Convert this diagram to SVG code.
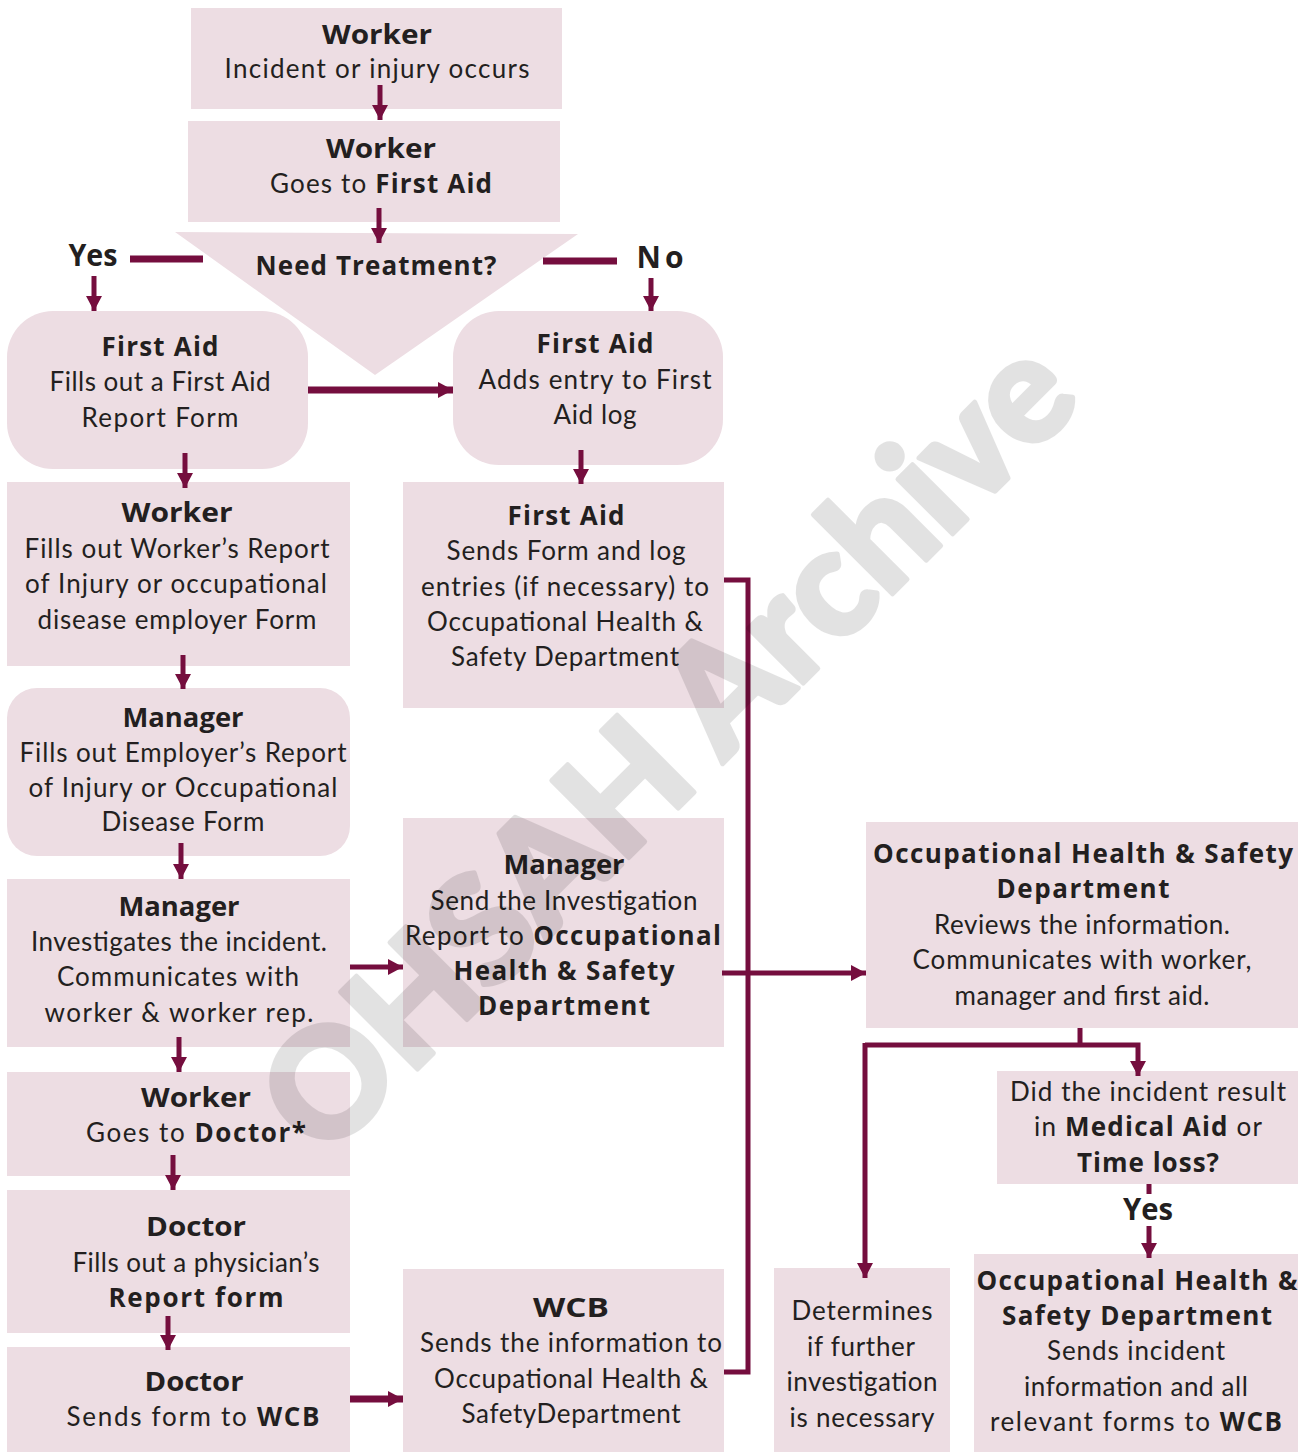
<svg xmlns="http://www.w3.org/2000/svg" width="1307" height="1452" viewBox="0 0 1307 1452">
  <defs>
    <marker id="arrow" markerUnits="userSpaceOnUse" markerWidth="15" markerHeight="16" refX="15" refY="8" orient="auto">
      <path d="M0,0 L15,8 L0,16 z" fill="#750E3E"/>
    </marker>
    <style>
      .box { fill: #EDDDE3; }
      text { font-family: Lato, "Open Sans", "Liberation Sans", sans-serif; font-size: 26px; fill: #231F20; text-anchor: middle; }
      .b { font-family: "Open Sans", Lato, "Liberation Sans", sans-serif; font-weight: 700; font-size: 26px; }
      .lbl { font-family: "Open Sans", Lato, "Liberation Sans", sans-serif; font-weight: 700; font-size: 30px; }
      .conn path, .conn line { stroke: #750E3E; stroke-width: 5; fill: none; }
      .conn .arr { marker-end: url(#arrow); }
      .conn .bar { stroke-width: 7; }
      .mark { font-family: Lato, "Liberation Sans", sans-serif; font-weight: 900; font-size: 150px; fill: #000; stroke: #000; stroke-width: 5; stroke-linejoin: round; }
    </style>
  </defs>
  <rect width="1307" height="1452" fill="#FFFFFF"/>

  <!-- process nodes -->
  <g id="n-incident">
    <rect class="box" x="191" y="8" width="371" height="101"/>
    <text class="b" x="377" y="44" textLength="110" lengthAdjust="spacingAndGlyphs">Worker</text>
    <text x="377" y="78" textLength="305" lengthAdjust="spacing">Incident or injury occurs</text>
  </g>
  <g id="n-goes-first-aid">
    <rect class="box" x="188" y="121" width="372" height="101"/>
    <text class="b" x="381" y="158" textLength="110" lengthAdjust="spacingAndGlyphs">Worker</text>
    <text x="381" y="193" textLength="222" lengthAdjust="spacing">Goes to <tspan class="b">First Aid</tspan></text>
  </g>
  <g id="n-need-treatment">
    <polygon class="box" points="175,232 578,234 375,375"/>
    <text class="b" x="376" y="275" textLength="241" lengthAdjust="spacing">Need Treatment?</text>
  </g>
  <g id="n-report-form">
    <rect class="box" x="7" y="311" width="301" height="158" rx="46" ry="46"/>
    <text class="b" x="160" y="356" textLength="117" lengthAdjust="spacing">First Aid</text>
    <text x="160" y="391" textLength="221" lengthAdjust="spacing">Fills out a First Aid</text>
    <text x="160" y="427" textLength="157" lengthAdjust="spacing">Report Form</text>
  </g>
  <g id="n-log-entry">
    <rect class="box" x="453" y="311" width="270" height="154" rx="46" ry="46"/>
    <text class="b" x="595" y="353" textLength="117" lengthAdjust="spacing">First Aid</text>
    <text x="595" y="389" textLength="233" lengthAdjust="spacing">Adds entry to First</text>
    <text x="595" y="424" textLength="83" lengthAdjust="spacing">Aid log</text>
  </g>
  <g id="n-worker-report">
    <rect class="box" x="7" y="482" width="343" height="184"/>
    <text class="b" x="177" y="522" textLength="111" lengthAdjust="spacingAndGlyphs">Worker</text>
    <text x="177" y="558" textLength="305" lengthAdjust="spacing">Fills out Worker’s Report</text>
    <text x="176" y="593" textLength="302" lengthAdjust="spacing">of Injury or occupational</text>
    <text x="177" y="629" textLength="279" lengthAdjust="spacing">disease employer Form</text>
  </g>
  <g id="n-send-log">
    <rect class="box" x="403" y="482" width="321" height="226"/>
    <text class="b" x="566" y="525" textLength="117" lengthAdjust="spacing">First Aid</text>
    <text x="566" y="560" textLength="239" lengthAdjust="spacing">Sends Form and log</text>
    <text x="565" y="596" textLength="288" lengthAdjust="spacing">entries (if necessary) to</text>
    <text x="565" y="631" textLength="276" lengthAdjust="spacing">Occupational Health &amp;</text>
    <text x="565" y="666" textLength="228" lengthAdjust="spacing">Safety Department</text>
  </g>
  <g id="n-employer-report">
    <rect class="box" x="7" y="688" width="343" height="168" rx="30" ry="30"/>
    <text class="b" x="183" y="727" textLength="121" lengthAdjust="spacingAndGlyphs">Manager</text>
    <text x="183" y="762" textLength="327" lengthAdjust="spacing">Fills out Employer’s Report</text>
    <text x="183" y="797" textLength="309" lengthAdjust="spacing">of Injury or Occupational</text>
    <text x="183" y="831" textLength="163" lengthAdjust="spacing">Disease Form</text>
  </g>
  <g id="n-investigate">
    <rect class="box" x="7" y="879" width="343" height="168"/>
    <text class="b" x="179" y="916" textLength="121" lengthAdjust="spacingAndGlyphs">Manager</text>
    <text x="179" y="951" textLength="296" lengthAdjust="spacing">Investigates the incident.</text>
    <text x="178" y="986" textLength="242" lengthAdjust="spacing">Communicates with</text>
    <text x="179" y="1022" textLength="269" lengthAdjust="spacing">worker &amp; worker rep.</text>
  </g>
  <g id="n-send-investigation">
    <rect class="box" x="403" y="818" width="321" height="229"/>
    <text class="b" x="564" y="874" textLength="121" lengthAdjust="spacingAndGlyphs">Manager</text>
    <text x="564" y="910" textLength="267" lengthAdjust="spacing">Send the Investigation</text>
    <text x="563" y="945" textLength="316" lengthAdjust="spacing">Report to <tspan class="b">Occupational</tspan></text>
    <text class="b" x="564" y="980" textLength="221" lengthAdjust="spacing">Health &amp; Safety</text>
    <text class="b" x="564" y="1015" textLength="172" lengthAdjust="spacing">Department</text>
  </g>
  <g id="n-ohs-review">
    <rect class="box" x="866" y="822" width="432" height="206"/>
    <text class="b" x="1083" y="863" textLength="420" lengthAdjust="spacing">Occupational Health &amp; Safety</text>
    <text class="b" x="1083" y="898" textLength="173" lengthAdjust="spacing">Department</text>
    <text x="1082" y="934" textLength="296" lengthAdjust="spacing">Reviews the information.</text>
    <text x="1082" y="969" textLength="339" lengthAdjust="spacing">Communicates with worker,</text>
    <text x="1082" y="1005" textLength="255" lengthAdjust="spacing">manager and first aid.</text>
  </g>
  <g id="n-doctor-visit">
    <rect class="box" x="7" y="1072" width="343" height="104"/>
    <text class="b" x="196" y="1107" textLength="110" lengthAdjust="spacingAndGlyphs">Worker</text>
    <text x="196" y="1142" textLength="220" lengthAdjust="spacing">Goes to <tspan class="b">Doctor*</tspan></text>
  </g>
  <g id="n-medical-aid">
    <rect class="box" x="997" y="1071" width="301" height="113"/>
    <text x="1148" y="1101" textLength="276" lengthAdjust="spacing">Did the incident result</text>
    <text x="1148" y="1136" textLength="228" lengthAdjust="spacing">in <tspan class="b">Medical Aid</tspan> or</text>
    <text class="b" x="1148" y="1172" textLength="142" lengthAdjust="spacing">Time loss?</text>
  </g>
  <g id="n-physician-report">
    <rect class="box" x="7" y="1190" width="343" height="143"/>
    <text class="b" x="196" y="1236" textLength="100" lengthAdjust="spacingAndGlyphs">Doctor</text>
    <text x="196" y="1272" textLength="247" lengthAdjust="spacing">Fills out a physician’s</text>
    <text class="b" x="196" y="1307" textLength="175" lengthAdjust="spacing">Report form</text>
  </g>
  <g id="n-doctor-wcb">
    <rect class="box" x="7" y="1347" width="343" height="105"/>
    <text class="b" x="194" y="1391" textLength="99" lengthAdjust="spacingAndGlyphs">Doctor</text>
    <text x="193" y="1426" textLength="253" lengthAdjust="spacing">Sends form to <tspan class="b">WCB</tspan></text>
  </g>
  <g id="n-wcb">
    <rect class="box" x="403" y="1269" width="321" height="183"/>
    <text class="b" x="571" y="1317" textLength="76" lengthAdjust="spacingAndGlyphs">WCB</text>
    <text x="571" y="1352" textLength="302" lengthAdjust="spacing">Sends the information to</text>
    <text x="571" y="1388" textLength="274" lengthAdjust="spacing">Occupational Health &amp;</text>
    <text x="571" y="1423" textLength="219" lengthAdjust="spacing">SafetyDepartment</text>
  </g>
  <g id="n-further">
    <rect class="box" x="774" y="1268" width="176" height="184"/>
    <text x="862" y="1320" textLength="141" lengthAdjust="spacing">Determines</text>
    <text x="861" y="1356" textLength="108" lengthAdjust="spacing">if further</text>
    <text x="862" y="1391" textLength="151" lengthAdjust="spacing">investigation</text>
    <text x="862" y="1427" textLength="145" lengthAdjust="spacing">is necessary</text>
  </g>
  <g id="n-ohs-wcb">
    <rect class="box" x="974" y="1254" width="324" height="198"/>
    <text class="b" x="1137" y="1290" textLength="321" lengthAdjust="spacing">Occupational Health &amp;</text>
    <text class="b" x="1137" y="1325" textLength="270" lengthAdjust="spacing">Safety Department</text>
    <text x="1136" y="1360" textLength="178" lengthAdjust="spacing">Sends incident</text>
    <text x="1136" y="1396" textLength="224" lengthAdjust="spacing">information and all</text>
    <text x="1136" y="1431" textLength="292" lengthAdjust="spacing">relevant forms to <tspan class="b">WCB</tspan></text>
  </g>

  <!-- decision labels -->
  <g id="labels">
    <text class="lbl" x="93" y="266" textLength="49" lengthAdjust="spacingAndGlyphs">Yes</text>
    <text class="lbl" x="660" y="268" textLength="47" lengthAdjust="spacing">No</text>
    <text class="lbl" x="1148" y="1220" textLength="50" lengthAdjust="spacingAndGlyphs">Yes</text>
  </g>

  <!-- connectors -->
  <g id="connectors" class="conn">
    <line class="arr" x1="380" y1="85" x2="380" y2="120"/>
    <line class="arr" x1="379" y1="208" x2="379" y2="243"/>
    <line class="bar" x1="130" y1="259" x2="203" y2="259"/>
    <line class="arr" x1="94" y1="276" x2="94" y2="311"/>
    <line class="bar" x1="543" y1="261" x2="617" y2="261"/>
    <line class="arr" x1="651" y1="278" x2="651" y2="311"/>
    <line class="arr bar" x1="308" y1="390" x2="453" y2="390"/>
    <line class="arr" x1="185" y1="453" x2="185" y2="488"/>
    <line class="arr" x1="581" y1="450" x2="581" y2="484"/>
    <line class="arr" x1="183" y1="655" x2="183" y2="689"/>
    <line class="arr" x1="181" y1="843" x2="181" y2="879"/>
    <line class="arr" x1="350" y1="967" x2="403" y2="967"/>
    <line class="arr" x1="179" y1="1037" x2="179" y2="1072"/>
    <line class="arr" x1="173" y1="1155" x2="173" y2="1190"/>
    <line class="arr" x1="168" y1="1316" x2="168" y2="1350"/>
    <line class="arr bar" x1="350" y1="1399" x2="403" y2="1399"/>
    <path d="M724,580 H748 V1372 H724"/>
    <line class="arr" x1="722" y1="973" x2="866" y2="973"/>
    <path d="M1080,1028 V1045"/>
    <path class="arr" d="M865,1045 H1138 V1076"/>
    <path class="arr" d="M865,1043 V1278"/>
    <line x1="1149" y1="1184" x2="1149" y2="1194"/>
    <line class="arr" x1="1149" y1="1226" x2="1149" y2="1258"/>
  </g>

  <!-- archive stamp across the chart -->
  <g opacity="0.11">
    <text class="mark" transform="translate(666,744) rotate(-45)" x="0" y="54" textLength="1075" lengthAdjust="spacingAndGlyphs">OHSAH Archive</text>
  </g>
</svg>
